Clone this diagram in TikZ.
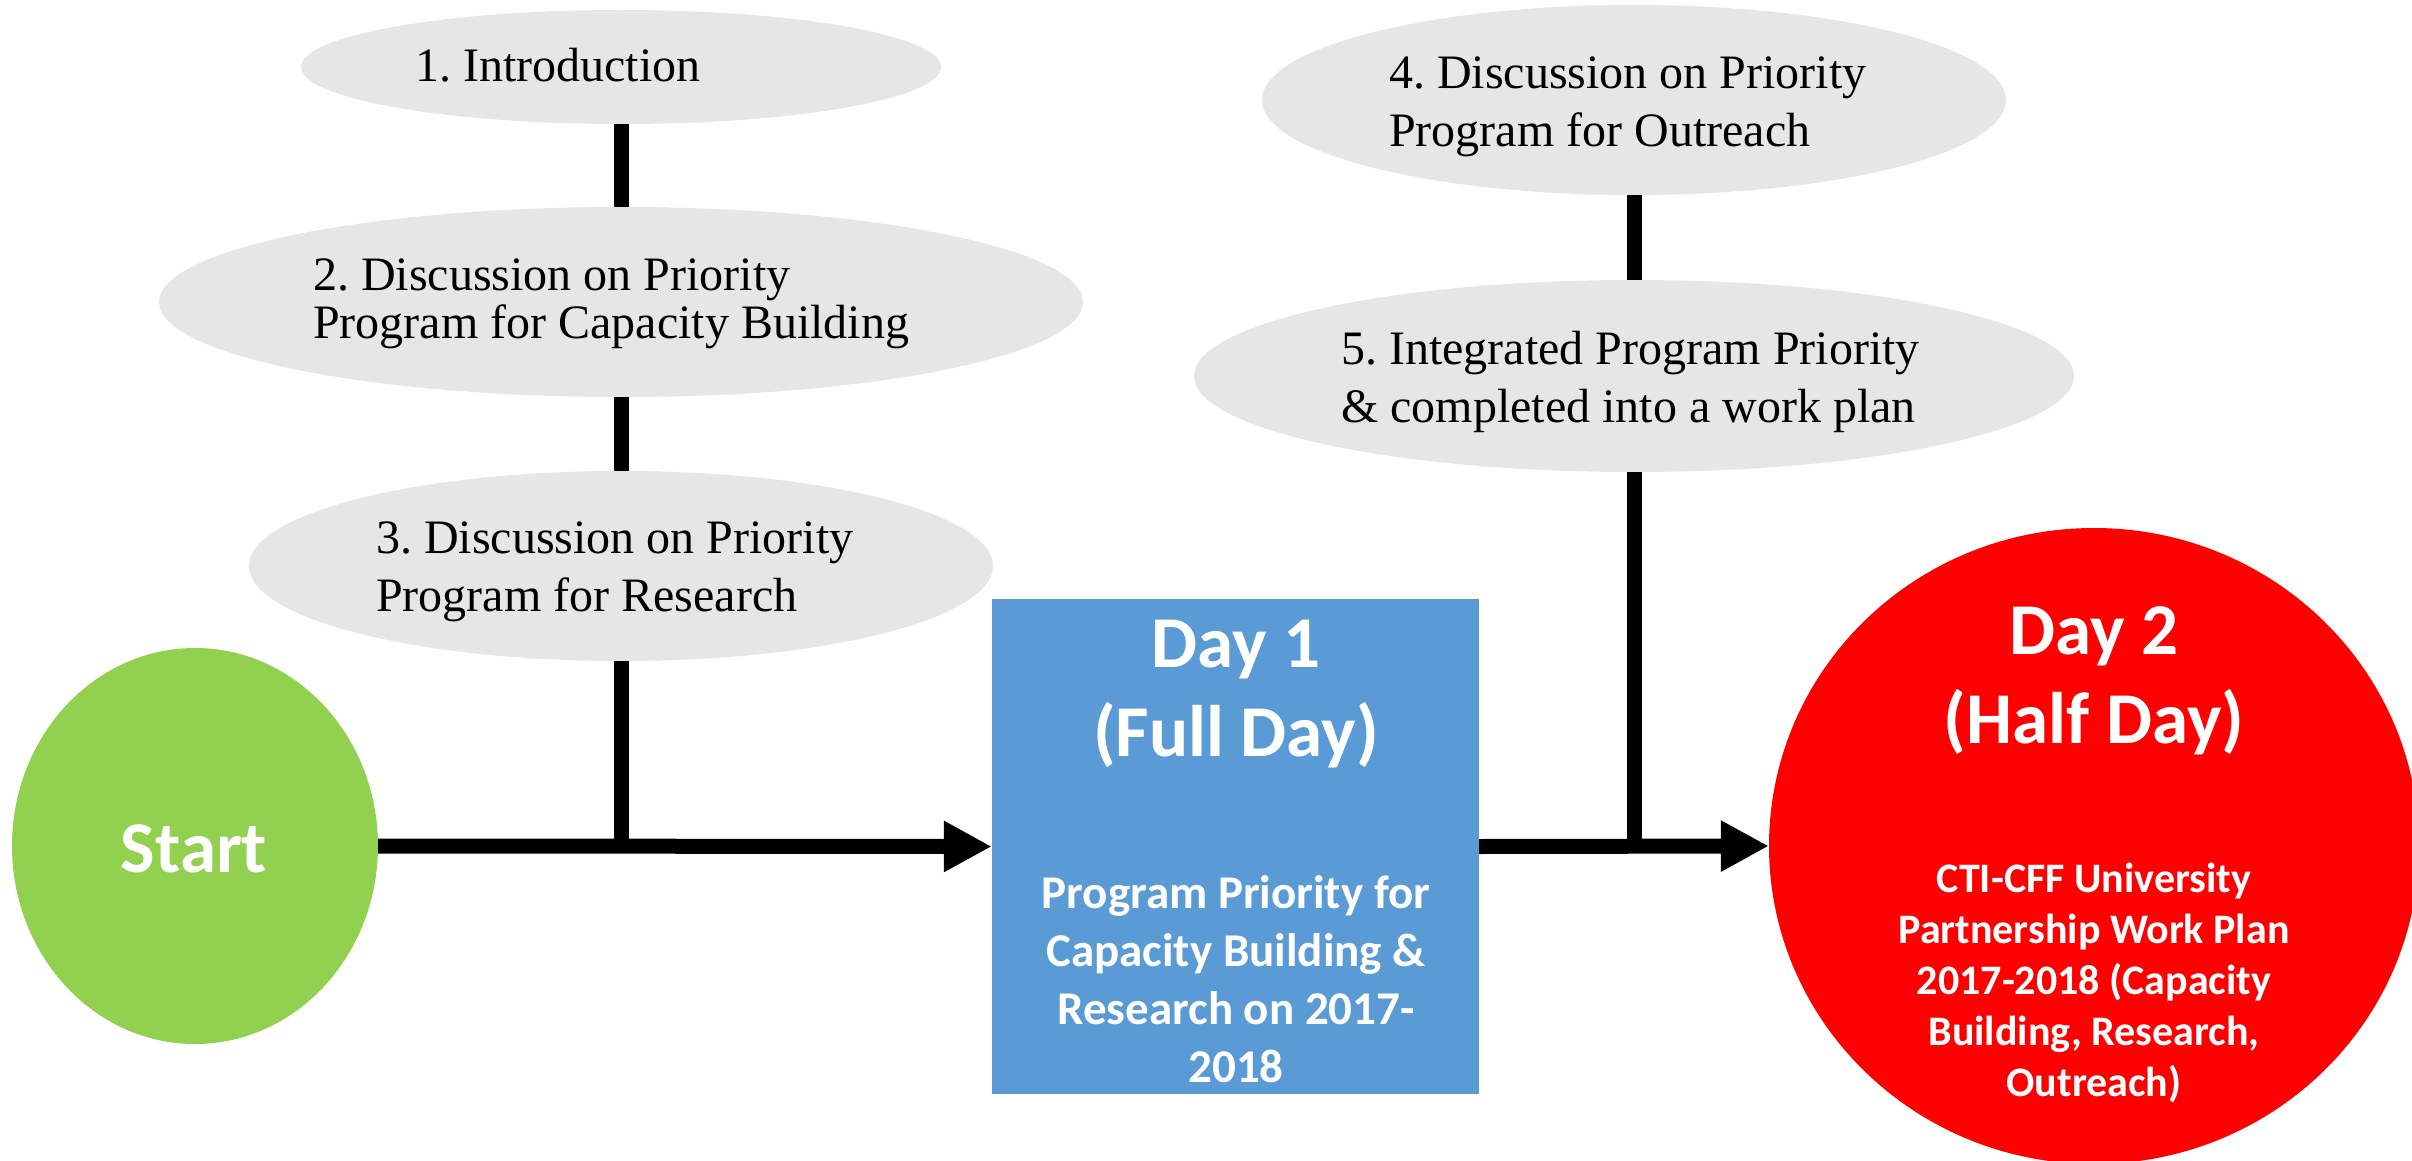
\documentclass[tikz,border=0pt]{standalone}
\usepackage{fontspec}
\setmainfont{Liberation Serif}
\newfontfamily\calfont{Carlito}
\usetikzlibrary{arrows.meta,shapes.geometric}
\definecolor{ellgray}{HTML}{E6E6E6}
\definecolor{startgreen}{HTML}{92D050}
\definecolor{dayblue}{HTML}{5B9BD5}
\definecolor{dayred}{HTML}{FF0000}
\frenchspacing
\begin{document}
\begin{tikzpicture}[x=1pt,y=-1pt,
  ell/.style={ellipse, fill=ellgray, draw=none, inner sep=0pt},
  etext/.style={align=left, inner sep=0pt, anchor=base west, font=\fontsize{48}{58}\selectfont},
  conn/.style={line width=15pt, draw=black, line cap=butt},
  arr/.style={-{Triangle[length=48pt,width=48pt]}},
  wtitle/.style={text=white, align=center, inner sep=0pt, anchor=base, font=\calfont\bfseries\fontsize{73}{89}\selectfont},
  wsmall/.style={text=white, align=center, inner sep=0pt, anchor=base},
]
\useasboundingbox (0,0) rectangle (2412,1161);
\clip (0,0) rectangle (2412,1161);
\fill[white] (0,0) rectangle (2412,1161);

% gray ellipses
\node[ell, minimum width=640pt, minimum height=114pt] (e1) at (621,67) {};
\node[ell, minimum width=924pt, minimum height=190pt] (e2) at (621,302) {};
\node[ell, minimum width=744pt, minimum height=190pt] (e3) at (621,566) {};
\node[ell, minimum width=744pt, minimum height=190pt] (e4) at (1634,100) {};
\node[ell, minimum width=880pt, minimum height=192pt] (e5) at (1634,376) {};

% texts (base anchor = baseline of last line)
\node[etext] (t1) at (415,82) {1. Introduction};
\node[etext, font=\fontsize{48}{48}\selectfont] (t2) at (313,338) {2. Discussion on Priority\\Program for Capacity Building};
\node[etext] (t3) at (376,611) {3. Discussion on Priority\\Program for Research};
\node[etext] (t4) at (1389,147) {4. Discussion on Priority\\Program for Outreach};
\node[etext] (t5) at (1341,422) {5. Integrated Program Priority\\\& completed into a work plan};

% main shapes
\node[ellipse, fill=startgreen, minimum width=366pt, minimum height=396pt, inner sep=0pt] (start) at (195,846) {};
\node[wtitle] (tstart) at (194,872) {Start};

\node[rectangle, fill=dayblue, minimum width=487pt, minimum height=495pt, inner sep=0pt] (day1) at (1235.5,846.5) {};
\node[wtitle] (d1t) at (1236,756) {Day 1\\(Full Day)};
\node[wsmall, font=\calfont\bfseries\fontsize{47}{58}\selectfont] (d1s) at (1236,1082) {Program Priority for\\Capacity Building \&\\Research on 2017-\\2018};

\node[ellipse, fill=dayred, minimum width=650pt, minimum height=636pt, inner sep=0pt] (day2) at (2094,846) {};
\node[wtitle] (d2t) at (2094,743) {Day 2\\(Half Day)};
\node[wsmall, font=\calfont\bfseries\fontsize{42}{51}\selectfont] (d2s) at (2094,1096) {CTI-CFF University\\Partnership Work Plan\\2017-2018 (Capacity\\Building, Research,\\Outreach)};

% connectors
\draw[conn] (e1.south) -- (e2.north);
\draw[conn] (e2.south) -- (e3.north);
\draw[conn] (e3.south) -- (e3.south |- start.east);
\draw[conn] (e4.south) -- (e5.north);
\draw[conn] (e5.south) -- (e5.south |- day1.east);
\draw[conn, arr] (start.east) -- (day1.west);
\draw[conn, arr] (day1.east) -- (day2.west);
\end{tikzpicture}
\end{document}
